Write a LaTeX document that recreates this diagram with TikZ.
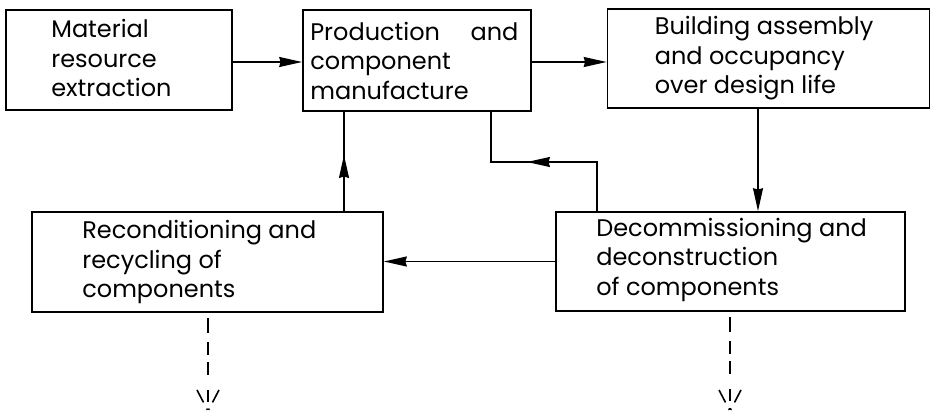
\documentclass[tikz,border=0pt]{standalone}
\usepackage{fontspec}
\setmainfont{Poppins}
\usetikzlibrary{arrows.meta}
\tikzset{
  box/.style={draw, line width=1.7pt, rectangle, inner sep=0pt},
  txt/.style={anchor=west, align=left, inner sep=0pt, font=\fontsize{24}{29.5}\selectfont},
  conn/.style={line width=1.5pt},
  arr/.style={conn, -{Stealth[length=23pt, width=10pt, inset=1.5pt]}},
  dashline/.style={line width=1.6pt, dash pattern=on 0pt off 5pt on 15pt off 9pt on 13pt off 7pt on 13pt off 15pt on 12pt off 7pt on 1.5pt off 60pt},
  barb/.style={line width=1.6pt, dash pattern=on 14pt off 7pt on 1.5pt off 30pt}
}
\begin{document}
\begin{tikzpicture}[x=1pt, y=-1pt]
\useasboundingbox (0,0) rectangle (932,412);
% boxes
\node[box, minimum width=226pt, minimum height=100pt] (b1) at (119,60) {};
\node[box, minimum width=228pt, minimum height=101pt] (b2) at (417,60.5) {};
\node[box, minimum width=322pt, minimum height=99pt] (b3) at (768.5,58.5) {};
\node[box, minimum width=349pt, minimum height=99pt] (b4) at (730.5,261.5) {};
\node[box, minimum width=351pt, minimum height=100pt] (b5) at (207.5,262) {};
% texts
\node[txt] (t1) at ([xshift=46pt,yshift=2pt]b1.west) {Material\\resource\\extraction};
\node[txt] (t2) at ([xshift=8pt]b2.west) {\makebox[208pt][s]{Production and}\\component\\manufacture};
\node[txt] (t3) at ([xshift=48pt]b3.west) {Building assembly\\and occupancy\\over design life};
\node[txt] (t4) at ([xshift=41pt,yshift=2pt]b4.west) {Decommissioning and\\deconstruction\\of components};
\node[txt] (t5) at ([xshift=51pt]b5.west) {Reconditioning and\\recycling of\\components};
% connectors
\draw[arr] (b1.east |- 0,62) -- (b2.west |- 0,62);
\draw[arr] (b2.east |- 0,62) -- (b3.west |- 0,62);
\draw[arr] (b3.south -| 758,0) -- (b4.north -| 758,0);
\draw[arr] (b4.west) -- (b4.west -| b5.east);
\coordinate (m1) at (344,155);
\draw[conn] (b5.north -| m1) -- (b2.south -| m1);
\draw[arr] (b5.north -| m1) -- (m1);
\coordinate (f1) at (597,162);
\coordinate (m2) at (527,162);
\coordinate (f2) at (491,162);
\draw[conn] (b4.north -| f1) -- (f1) -- (f2) -- (b2.south -| f2);
\draw[arr] (b4.north -| f1) -- (f1) -- (m2);
% dashed outputs
\coordinate (d1) at (208,411);
\coordinate (d2) at (730,411);
\draw[dashline] (b5.south -| d1) -- (d1);
\draw[barb] ([shift={(-11,-21)}]d1) -- (d1);
\draw[barb] ([shift={(11,-21)}]d1) -- (d1);
\draw[dashline] (b4.south -| d2) -- (d2);
\draw[barb] ([shift={(-11,-21)}]d2) -- (d2);
\draw[barb] ([shift={(11,-21)}]d2) -- (d2);
\end{tikzpicture}
\end{document}
